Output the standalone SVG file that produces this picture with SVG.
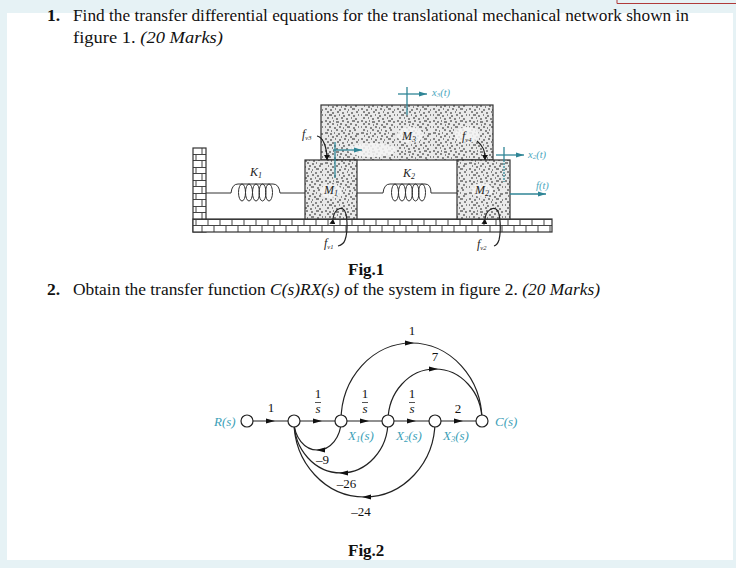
<svg xmlns="http://www.w3.org/2000/svg" width="736" height="568" viewBox="0 0 736 568">
<style>
text{font-family:"Liberation Serif","Times New Roman",serif;fill:#111}
.q{font-size:17.5px}
.b{font-weight:bold}
.i{font-style:italic}
.t{fill:#3d9fb8;font-style:italic;font-size:13px}
.dt{fill:#4aa6bd;font-style:italic;font-size:10.500px}
.k{fill:#222;font-style:italic;font-size:12px}
.g{font-size:13px}
.m{fill:url(#st);stroke:#333;stroke-width:1.2}
.w{fill:none;stroke:#333;stroke-width:1}
.c{fill:none;stroke:#222;stroke-width:1.2}
.cy{fill:none;stroke:#2f8596;stroke-width:1.3}
.n{fill:#fff;stroke:#222;stroke-width:1.2}
.h{fill:#f4f4f4;opacity:.85}
</style>
<defs>
<pattern id="st" width="36" height="30" patternUnits="userSpaceOnUse">
<rect width="36" height="30" fill="#e9e9e9"/>
<path d="M1 1h2M5 2h2M9 1h1M12 2h3M18 1h2M23 2h2M28 1h3M33 2h2M3 4h2M8 4h2M13 5h1M16 4h2M21 5h2M26 4h2M31 5h2M1 7h1M5 7h2M10 8h2M15 7h2M19 8h1M23 7h3M29 8h2M34 7h1M3 10h2M7 11h1M12 10h2M17 11h2M21 10h1M25 11h2M30 10h2M1 13h3M6 14h2M10 13h1M14 14h2M19 13h2M24 14h2M28 13h1M32 14h3M4 16h1M8 17h2M12 16h2M17 17h1M21 16h2M26 17h2M31 16h2M1 19h2M6 20h2M11 19h1M15 20h2M20 19h2M24 20h1M28 19h3M34 20h1M3 22h2M8 23h2M13 22h2M18 23h2M23 22h1M27 23h2M32 22h2M1 25h1M5 25h3M10 26h2M15 25h1M19 26h2M24 25h2M29 26h2M34 25h1M3 28h2M8 28h1M12 29h2M17 28h2M22 29h2M27 28h1M31 29h2" stroke="#222" stroke-width="1" fill="none"/>
</pattern>
<pattern id="br" width="12" height="13" patternUnits="userSpaceOnUse" patternTransform="translate(193 219)">
<rect width="12" height="13" fill="#fff"/>
<path d="M0 .5H12M0 6.500H12M3 0V6.500M9 6.500V13" stroke="#444" stroke-width="1" fill="none"/>
</pattern>
<marker id="e" markerWidth="8" markerHeight="6" refX="8" refY="3" orient="auto" markerUnits="userSpaceOnUse"><path d="M0 .5L8 3L0 5.5Z" fill="#2f8596"/></marker>
<marker id="d" markerWidth="5" markerHeight="6" refX="5" refY="3" orient="auto" markerUnits="userSpaceOnUse"><path d="M0 0L5 3L0 6Z" fill="#111"/></marker>
</defs>
<rect width="736" height="568" fill="#e6f2f5"/>
<rect x="7" y="13" width="726" height="547" fill="#fff"/>
<path d="M617 0V3.500H736" fill="none" stroke="#b03a3a" stroke-width="1"/>

<g id="question1">
<text class="q b" x="47" y="21">1.</text>
<text class="q" x="73" y="21" textLength="616" lengthAdjust="spacingAndGlyphs">Find the transfer differential equations for the translational mechanical network shown in</text>
<text class="q" x="73" y="43" textLength="150" lengthAdjust="spacingAndGlyphs">figure 1. <tspan class="i">(20 Marks)</tspan></text>
</g>

<g id="wall"><rect x="193" y="148" width="13" height="84" fill="url(#br)" stroke="#333" stroke-width="1.2"/></g>
<g id="floor"><rect x="193" y="219" width="359" height="13" fill="url(#br)" stroke="#333" stroke-width="1.200"/></g>
<g id="M3"><rect class="m" x="321" y="105" width="172" height="55"/>
<ellipse class="h" cx="372" cy="150" rx="24" ry="7"/><ellipse class="h" cx="467" cy="135" rx="12" ry="8"/><ellipse class="h" cx="410" cy="135" rx="13" ry="8"/>
<text class="k" x="402" y="140">M<tspan font-size="8" dy="2">3</tspan></text></g>
<g id="M1"><rect class="m" x="305" y="160" width="52" height="59"/><ellipse class="h" cx="331" cy="191" rx="11" ry="7"/><text class="k" x="324" y="194">M<tspan font-size="8" dy="2">1</tspan></text></g>
<g id="M2"><rect class="m" x="457" y="160" width="53" height="59"/><ellipse class="h" cx="482" cy="190" rx="11" ry="7"/><text class="k" x="475" y="194">M<tspan font-size="8" dy="2">2</tspan></text></g>

<g id="springs">
<path class="w" d="M206 193H231Q232 184 238 184H273Q279 184 280 193H305M357 193H383Q384 184 390 184H425Q431 184 431 193H457"/>
<ellipse class="w" cx="242" cy="192.500" rx="3.500" ry="8.500"/><ellipse class="w" cx="249" cy="192.500" rx="3.500" ry="8.500"/><ellipse class="w" cx="256" cy="192.500" rx="3.500" ry="8.500"/><ellipse class="w" cx="262.500" cy="192.500" rx="3.500" ry="8.500"/><ellipse class="w" cx="269" cy="192.500" rx="3.500" ry="8.500"/>
<ellipse class="w" cx="395" cy="192.500" rx="3.500" ry="8.500"/><ellipse class="w" cx="402" cy="192.500" rx="3.500" ry="8.500"/><ellipse class="w" cx="409" cy="192.500" rx="3.500" ry="8.500"/><ellipse class="w" cx="415.500" cy="192.500" rx="3.500" ry="8.500"/><ellipse class="w" cx="422" cy="192.500" rx="3.500" ry="8.500"/>
<text class="k" x="250" y="176">K<tspan font-size="8" dy="2">1</tspan></text>
<text class="k" x="403" y="177">K<tspan font-size="8" dy="2">2</tspan></text>
</g>

<g id="mech-connectors">
<path class="cy" d="M333 150H362" marker-end="url(#e)"/>
<path class="cy" d="M335 142V178"/>
<path class="cy" d="M398 94H427" marker-end="url(#e)"/>
<path class="cy" d="M407 87V115"/>
<path class="cy" d="M496 155H524" marker-end="url(#e)"/>
<path class="cy" d="M504 147V160"/><path class="cy" d="M504 160V182" stroke-dasharray="2 1"/>
<path class="cy" d="M510 194H546" marker-end="url(#e)"/>
<path class="c" d="M317 136C323 137 327 147 327 160" marker-end="url(#d)"/>
<path class="c" d="M333 219C334 210 340 207 343 209C348 212 348 232 345 240C344 243 342 245 338 246" marker-start="url(#d)"/>
<path class="c" d="M477 141C483 146 485 150 485 160" marker-end="url(#d)"/>
<path class="c" d="M485 219C486 210 493 207 496 209C501 212 501 232 499 240C498 243 497 245 494 246" marker-start="url(#d)"/>
<text class="dt" x="432" y="96">x<tspan font-size="7" dy="1">3</tspan><tspan dy="-1">(t)</tspan></text>
<text class="dt" x="528" y="158">x<tspan font-size="7" dy="1">2</tspan><tspan dy="-1">(t)</tspan></text>
<text class="dt" x="536" y="189">f(t)</text>
<text class="k" x="302" y="138">f<tspan font-size="6.500" dy="2">v3</tspan></text>
<text class="k" x="462" y="140">f<tspan font-size="6.500" dy="2">v4</tspan></text>
<text class="k" x="324" y="247">f<tspan font-size="6.500" dy="2">v1</tspan></text>
<text class="k" x="477" y="248">f<tspan font-size="6.500" dy="2">v2</tspan></text>
</g>

<text class="b" x="348" y="275" font-size="17">Fig.1</text>
<g id="question2">
<text class="q b" x="47" y="295">2.</text>
<text class="q" x="73" y="295" textLength="527" lengthAdjust="spacingAndGlyphs">Obtain the transfer function <tspan class="i">C(s)RX(s)</tspan> of the system in figure 2. <tspan class="i">(20 Marks)</tspan></text>
</g>

<g id="connectors">
<path class="c" d="M247 421H482"/>
<path class="c" d="M341 421A70.500 78 0 0 1 482 421"/>
<path class="c" d="M388 421A47 52 0 0 1 482 421"/>
<path class="c" d="M341 421A23.500 29 0 0 1 294 421"/>
<path class="c" d="M388 421A47 52 0 0 1 294 421"/>
<path class="c" d="M435 421A70.500 76 0 0 1 294 421"/>
<path d="M275 421L266 418.500V423.500ZM322 421L313 418.500V423.500ZM369 421L360 418.500V423.500ZM416 421L407 418.500V423.500ZM463 421L454 418.500V423.500ZM414 343L405 340.500V345.500ZM438 369L429 366.500V371.500ZM316 450L325 447.500V452.500ZM339 473L348 470.500V475.500ZM362 497L371 494.500V499.500Z" fill="#111"/>
</g>

<g id="R"><circle class="n" cx="247" cy="421" r="6"/><text class="t" x="214" y="426" font-size="12">R(s)</text></g>
<g id="n1"><circle class="n" cx="294" cy="421" r="6"/></g>
<g id="X1"><circle class="n" cx="341" cy="421" r="6"/><text class="t" x="348" y="440">X<tspan font-size="8.500" dy="2">1</tspan><tspan dy="-2">(s)</tspan></text></g>
<g id="X2"><circle class="n" cx="388" cy="421" r="6"/><text class="t" x="396" y="440">X<tspan font-size="8.500" dy="2">2</tspan><tspan dy="-2">(s)</tspan></text></g>
<g id="X3"><circle class="n" cx="435" cy="421" r="6"/><text class="t" x="443" y="440">X<tspan font-size="8.500" dy="2">3</tspan><tspan dy="-2">(s)</tspan></text></g>
<g id="C"><circle class="n" cx="482" cy="421" r="6"/><text class="t" x="495" y="426">C(s)</text></g>

<g id="gains">
<text class="g" x="271" y="412" text-anchor="middle">1</text>
<text class="g" x="318" y="398" text-anchor="middle">1</text><path d="M315 402.500H321" stroke="#555"/><text class="g i" x="318" y="413" text-anchor="middle">s</text>
<text class="g" x="365" y="398" text-anchor="middle">1</text><path d="M362 402.500H368" stroke="#555"/><text class="g i" x="365" y="413" text-anchor="middle">s</text>
<text class="g" x="412" y="398" text-anchor="middle">1</text><path d="M409 402.500H415" stroke="#555"/><text class="g i" x="412" y="413" text-anchor="middle">s</text>
<text class="g" x="458" y="413" text-anchor="middle">2</text>
<text class="g" x="412" y="335" text-anchor="middle">1</text>
<text class="g" x="435" y="361" text-anchor="middle">7</text>
<text class="g" x="322.500" y="464" text-anchor="middle">–9</text>
<text class="g" x="346.500" y="488" text-anchor="middle">–26</text>
<text class="g" x="361" y="516" text-anchor="middle">–24</text>
</g>
<text class="b" x="348" y="556" font-size="17">Fig.2</text>
</svg>
